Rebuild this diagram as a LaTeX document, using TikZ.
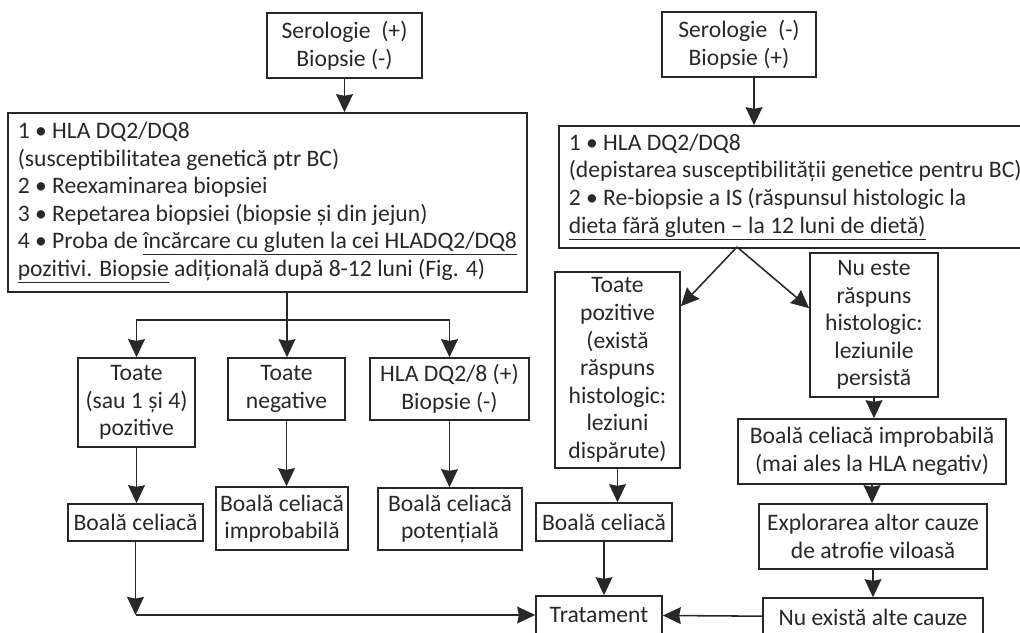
\documentclass[tikz,border=0pt]{standalone}
\usepackage{fontspec}
\setmainfont{Carlito}
\usetikzlibrary{arrows.meta}
\definecolor{InkGray}{RGB}{40,40,40}

\begin{document}
\begin{tikzpicture}[
    x=0.025cm, y=-0.025cm,
    box/.style={rectangle, draw=InkGray, line width=1.1pt, text=InkGray, align=center,
                inner xsep=0.1cm, inner ysep=0.03cm, font=\fontsize{16.8}{19.6}\selectfont},
    listbox/.style={box, align=left, inner xsep=0.25cm},
    arrow/.style={-{Triangle[length=0.45cm,width=0.42cm,inset=0.04cm]}, line width=1.1pt, InkGray},
    line/.style={line width=1.1pt, InkGray}
  ]
  \useasboundingbox (0,0) rectangle (1020,632);

  % left branch
  \node[box, minimum width=3.875cm, minimum height=1.625cm] (serpos) at (344.5,45.5) {Serologie\ \ (+)\\Biopsie (-)};
  \node[listbox, anchor=west, minimum height=4.475cm] (testsA) at (7,202.5)
    {1 • HLA DQ2/DQ8\\
     (susceptibilitatea genetică ptr BC)\\
     2 • Reexaminarea biopsiei\\
     3 • Repetarea biopsiei (biopsie și din jejun)\\
     4 • Proba de \underline{încărcare cu gluten la cei HLADQ2/DQ8}\\
     \underline{pozitivi. Biopsie} adițională după 8-12 luni (Fig. 4)};
  \node[box, minimum width=2.925cm, minimum height=2.225cm] (allpos) at (136.5,402.5) {Toate\\(sau 1 și 4)\\pozitive};
  \node[box, minimum width=2.925cm, minimum height=1.55cm] (allneg) at (286.5,389) {Toate\\negative};
  \node[box, minimum width=3.975cm, minimum height=1.55cm] (hlapos) at (449.5,389) {HLA DQ2/8 (+)\\Biopsie (-)};
  \node[box, minimum width=3.375cm, minimum height=0.925cm] (celiacA) at (135.5,522.5) {Boală celiacă};
  \node[box, minimum width=3.15cm, minimum height=1.575cm] (unlikelyA) at (282,518.5) {Boală celiacă\\improbabilă};
  \node[box, minimum width=3.6cm, minimum height=1.55cm] (potential) at (450,519) {Boală celiacă\\potențială};

  % right branch
  \node[box, minimum width=3.85cm, minimum height=1.625cm] (serneg) at (739,44.5) {Serologie\ \ (-)\\Biopsie (+)};
  \node[listbox, anchor=west, minimum height=3.05cm] (testsB) at (558,187)
    {1 • HLA DQ2/DQ8\\
     (depistarea susceptibilității genetice pentru BC)\\
     2 • Re-biopsie a IS (răspunsul histologic la\\
     \underline{dieta fără gluten – la 12 luni de dietă)}};
  \node[box, minimum width=3.125cm, minimum height=4.9cm] (response) at (617.5,370)
    {Toate\\pozitive\\(există\\răspuns\\histologic:\\leziuni\\dispărute)};
  \node[box, minimum width=3.2cm, minimum height=3.6cm] (noresp) at (874,325)
    {Nu este\\răspuns\\histologic:\\leziunile\\persistă};
  \node[box, minimum width=6.7cm, minimum height=1.625cm] (unlikelyB) at (872,451.5) {Boală celiacă improbabilă\\(mai ales la HLA negativ)};
  \node[box, minimum width=5.7cm, minimum height=1.625cm] (explore) at (873,536.5) {Explorarea altor cauze\\de atrofie viloasă};
  \node[box, minimum width=5.5cm, minimum height=0.95cm] (nocause) at (873,617) {Nu există alte cauze};
  \node[box, minimum width=3.4cm, minimum height=0.95cm] (celiacB) at (604,522) {Boală celiacă};
  \node[box, minimum width=3.15cm, minimum height=0.95cm] (therapy) at (599,615) {Tratament};

  \coordinate (split) at (287,320);
  \coordinate (fork) at (737,247);

  % connectors, left
  \draw[arrow] (serpos) -- (serpos |- testsA.north);
  \draw[line] (split |- testsA.south) -- (split);
  \draw[arrow] (split) -| (allpos);
  \draw[arrow] (split) -- (split |- allneg.north);
  \draw[arrow] (split) -| (hlapos);
  \draw[arrow] (allpos) -- (allpos |- celiacA.north);
  \draw[arrow] (allneg) -- (allneg |- unlikelyA.north);
  \draw[arrow] (hlapos) -- (hlapos |- potential.north);
  \coordinate (join) at (celiacA |- therapy);
  \draw[arrow] (celiacA) -- (join);
  \draw[arrow] (join) -- (therapy);

  % connectors, right
  \draw[arrow] ([xshift=0.375cm]serneg.south) -- ([xshift=0.375cm]serneg.south |- testsB.north);
  \draw[arrow] (fork) -- ([yshift=-0.875cm]response.north east);
  \draw[arrow] (fork) -- ([yshift=-1.4cm]noresp.north west);
  \draw[arrow] (response) -- (response |- celiacB.north);
  \draw[arrow] (celiacB) -- (celiacB |- therapy.north);
  \draw[arrow] (noresp) -- (noresp |- unlikelyB.north);
  \draw[arrow] (unlikelyB) -- (unlikelyB |- explore.north);
  \draw[arrow] (explore) -- (explore |- nocause.north);
  \draw[arrow] (nocause) -- (therapy);
\end{tikzpicture}
\end{document}
